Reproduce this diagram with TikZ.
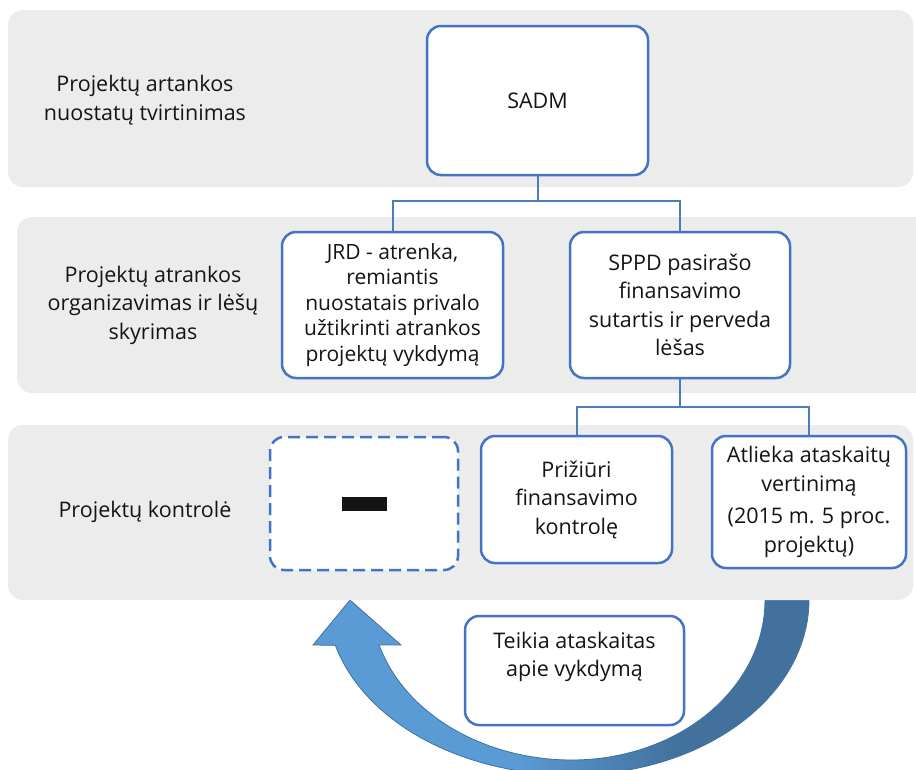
\documentclass[tikz,border=0pt]{standalone}
\usepackage{fontspec}
\setmainfont{Open Sans}
\definecolor{bandgray}{RGB}{236,236,236}
\definecolor{boxblue}{RGB}{68,114,196}
\definecolor{lineblue}{RGB}{74,126,187}
\definecolor{arrowlight}{RGB}{91,155,213}
\definecolor{arrowdark}{RGB}{65,113,156}
\definecolor{txt}{RGB}{20,20,20}
\pgfdeclarehorizontalshading{arrowsh}{100bp}{color(0bp)=(arrowlight); color(45bp)=(arrowlight); color(62bp)=(arrowdark); color(100bp)=(arrowdark)}
\begin{document}
\begin{tikzpicture}[x=1pt,y=-1pt,
  band/.style={fill=bandgray, rounded corners=15pt},
  box/.style={draw=boxblue, line width=2.5pt, fill=white, rounded corners=14pt,
    align=center, inner sep=0pt, text=txt, font=\fontsize{21.5}{28.5}\selectfont},
  lbl/.style={align=center, text=txt, font=\fontsize{21.5}{28.5}\selectfont},
  conn/.style={draw=lineblue, line width=2pt}]
\useasboundingbox (0,0) rectangle (916,769);
\clip (0,0) rectangle (916,769);
% curved arrow
\path[shading=arrowsh, draw=arrowdark, line width=0.8pt]
  plot[domain=0:90,samples=40] ({572+237*cos(\x)},{600+175*sin(\x)})
  -- plot[domain=90:165,samples=40] ({572+245*cos(\x)},{600+175*sin(\x)})
  -- (313,645) -- (350,600) -- (401,645)
  -- plot[domain=163.7:90,samples=40] ({572+201*cos(\x)},{600+160*sin(\x)})
  -- plot[domain=90:0,samples=40] ({572+193*cos(\x)},{600+160*sin(\x)})
  -- cycle;
% bands
\path[band] (8,10) rectangle (913,187);
\path[band] (17,217) rectangle (950,393);
\path[band] (8,425) rectangle (913,600);
% band labels
\node[lbl] (l1) at (145,100) {Projektų artankos\\nuostatų tvirtinimas};
\node[lbl] (l2) at (153,305) {Projektų atrankos\\organizavimas ir lėšų\\skyrimas};
\node[lbl] (l3) at (145,512) {Projektų kontrolė};
% boxes
\node[box, minimum width=221pt, minimum height=149pt] (sadm) at (537.5,100.5) {SADM};
\node[box, minimum width=221pt, minimum height=146pt, font=\fontsize{21}{25.5}\selectfont] (jrd) at (392.5,305) {JRD - atrenka,\\remiantis\\nuostatais privalo\\užtikrinti atrankos\\projektų vykdymą};
\node[box, minimum width=220pt, minimum height=146pt] (sppd) at (680,305) {SPPD pasirašo\\finansavimo\\sutartis ir perveda\\lėšas};
\node[box, dashed, dash pattern=on 12pt off 6pt, minimum width=188pt, minimum height=133pt] (dash) at (364,503.5) {\rule{45pt}{14pt}};
\node[box, minimum width=191pt, minimum height=127pt] (priz) at (576.5,499.5) {Prižiūri\\finansavimo\\kontrolę};
\node[box, minimum width=194pt, minimum height=132pt] (atl) at (809,502) {Atlieka ataskaitų\\vertinimą\\[4pt](2015 m. 5 proc.\\projektų)};
\node[box, minimum width=219pt, minimum height=109pt] (teik) at (574.5,670.5) {Teikia ataskaitas\\apie vykdymą\\[4pt]\mbox{}};
% connectors
\coordinate (j1) at (537.5,201);
\draw[conn] (sadm.south) -- (j1) -| (jrd.north);
\draw[conn] (j1) -| (sppd.north);
\coordinate (j2) at (680,407);
\draw[conn] (sppd.south) -- (j2) -| (priz.north);
\draw[conn] (j2) -| (atl.north);
\end{tikzpicture}
\end{document}
